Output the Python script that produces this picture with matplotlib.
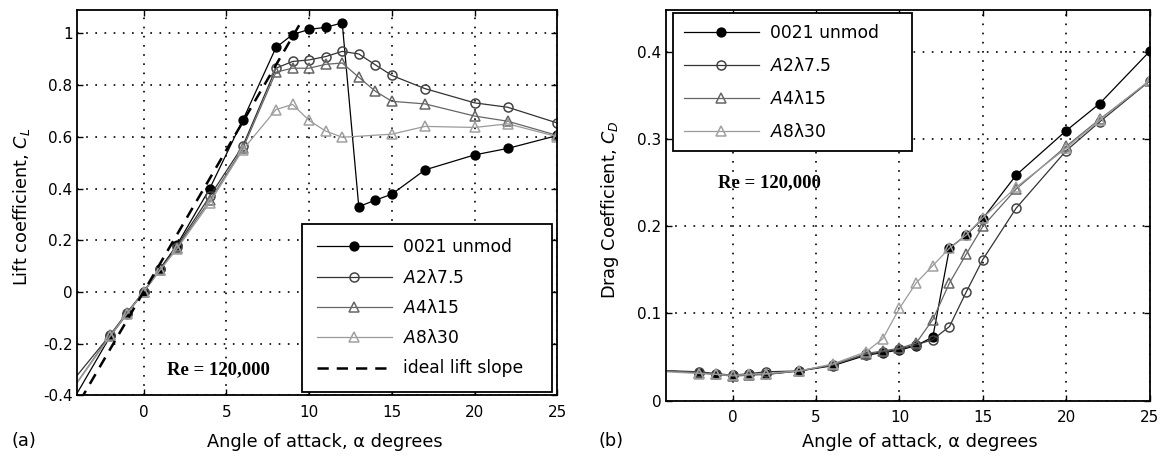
import matplotlib
matplotlib.use("Agg")
import matplotlib.pyplot as plt

plt.rcParams['font.family'] = ['DejaVu Sans']
plt.rcParams['mathtext.fontset'] = 'custom'
plt.rcParams['mathtext.rm'] = 'DejaVu Sans'
plt.rcParams['mathtext.it'] = 'DejaVu Sans:italic'

# Lift coefficient vs angle of attack
alpha_cl = [-5, -2, -1, 0, 1, 2, 4, 6, 8, 9, 10, 11, 12, 13, 14, 15, 17, 20, 22, 25]
cl_unmod = [-0.50, -0.17, -0.085, 0.0, 0.09, 0.18, 0.40, 0.665, 0.945, 0.995, 1.015,
            1.023, 1.04, 0.33, 0.355, 0.378, 0.472, 0.53, 0.555, 0.605]
cl_a2 = [-0.40, -0.165, -0.08, 0.0, 0.09, 0.175, 0.37, 0.565, 0.865, 0.891, 0.897,
         0.91, 0.93, 0.92, 0.878, 0.837, 0.786, 0.731, 0.714, 0.653]
cl_a4 = [-0.44, -0.165, -0.08, 0.0, 0.085, 0.17, 0.355, 0.555, 0.85, 0.865, 0.865,
         0.88, 0.885, 0.83, 0.776, 0.737, 0.727, 0.68, 0.66, 0.605]
alpha_cl_a8 = [-5, -2, -1, 0, 1, 2, 4, 6, 8, 9, 10, 11, 12, 15, 17, 20, 22, 25]
cl_a8 = [-0.44, -0.17, -0.085, 0.0, 0.085, 0.165, 0.345, 0.55, 0.705, 0.725, 0.663,
         0.622, 0.598, 0.61, 0.64, 0.636, 0.65, 0.60]
ideal_alpha = [-5, 9.4]
ideal_cl = [-0.548, 1.031]

# Drag coefficient vs angle of attack
alpha_cd = [-5, -2, -1, 0, 1, 2, 4, 6, 8, 9, 10, 11, 12, 13, 14, 15, 17, 20, 22, 25]
cd_unmod = [0.035, 0.032, 0.030, 0.029, 0.030, 0.030, 0.034, 0.040, 0.052, 0.055, 0.058,
            0.063, 0.073, 0.175, 0.190, 0.209, 0.259, 0.310, 0.341, 0.401]
cd_a2 = [0.035, 0.033, 0.031, 0.029, 0.031, 0.033, 0.034, 0.041, 0.053, 0.056, 0.059,
         0.064, 0.070, 0.085, 0.1245, 0.162, 0.221, 0.287, 0.320, 0.367]
cd_a4 = [0.035, 0.032, 0.030, 0.028, 0.029, 0.030, 0.034, 0.041, 0.054, 0.057, 0.060,
         0.066, 0.093, 0.135, 0.168, 0.200, 0.243, 0.292, 0.323, 0.367]
cd_a8 = [0.034, 0.031, 0.030, 0.029, 0.030, 0.031, 0.034, 0.042, 0.056, 0.071, 0.106,
         0.135, 0.155, 0.175, 0.190, 0.210, 0.245, 0.290, 0.322, 0.368]

labels = ['0021 unmod', r'$A$2λ7.5', r'$A$4λ15', r'$A$8λ30']
x_ticks = [0, 5, 10, 15, 20, 25]
cl_ticks = [-0.4, -0.2, 0, 0.2, 0.4, 0.6, 0.8, 1]
cl_ticklabels = ['-0.4', '-0.2', '0', '0.2', '0.4', '0.6', '0.8', '1']
cd_ticks = [0, 0.1, 0.2, 0.3, 0.4]
cd_ticklabels = ['0', '0.1', '0.2', '0.3', '0.4']

styles = [
    dict(color='black', marker='o', mfc='black', mec='black', ms=6.3),
    dict(color='#333333', marker='o', mfc='none', mec='#444444', ms=6.5),
    dict(color='#666666', marker='^', mfc='none', mec='#666666', ms=7),
    dict(color='#9a9a9a', marker='^', mfc='none', mec='#a0a0a0', ms=7),
]


def style_axes(ax, yticks, yticklabels):
    ax.set_xlim(-4, 25)
    ax.set_xticks(x_ticks)
    ax.set_xticklabels([str(t) for t in x_ticks])
    ax.set_yticks(yticks)
    ax.set_yticklabels(yticklabels)
    ax.tick_params(direction='in', length=4, width=1, top=True, right=True,
                   labelsize=11)
    ax.tick_params(axis='x', pad=6.5)
    ax.tick_params(axis='y', pad=3.5)
    ax.grid(True, color='black', linestyle=(0, (1, 4.5)), linewidth=1.2)
    for sp in ax.spines.values():
        sp.set_linewidth(1.3)


fig = plt.figure(figsize=(11.66, 4.58), dpi=100)

# (a) lift
ax1 = fig.add_axes([0.0663, 0.1365, 0.4118, 0.8417])
series_cl = [(alpha_cl, cl_unmod), (alpha_cl, cl_a2), (alpha_cl, cl_a4), (alpha_cl_a8, cl_a8)]
handles = []
for (x, y), lab, st in zip(series_cl, labels, styles):
    h, = ax1.plot(x, y, linewidth=0.9, mew=1.1, label=lab, **st)
    handles.append(h)
h_ideal, = ax1.plot(ideal_alpha, ideal_cl, color='black', linewidth=1.8,
                    dashes=(4.5, 3.2), label='ideal lift slope')
handles.append(h_ideal)
ax1.set_ylim(-0.4, 1.09)
style_axes(ax1, cl_ticks, cl_ticklabels)
ax1.set_xlabel('Angle of attack, α degrees', fontsize=12.8)
ax1.xaxis.set_label_coords(0.516, -0.12)
ax1.xaxis.label.set_va('center')
ax1.set_ylabel(r'Lift coefficient, $C_L$', fontsize=12.8)
ax1.yaxis.set_label_coords(-0.117, 0.49)
ax1.yaxis.label.set_va('center')
ax1.text(4.5, -0.30, 'Re = 120,000', family='Liberation Serif', weight='bold',
         fontsize=13.5, ha='center', va='center')
leg1 = ax1.legend(handles=handles, loc='lower left',
                  bbox_to_anchor=(0.468, 0.009, 0.5205, 0.45), mode='expand',
                  borderaxespad=0, fontsize=12.3, handlelength=4.4,
                  handletextpad=0.65, labelspacing=0.72, borderpad=0.85,
                  fancybox=False, framealpha=1, edgecolor='black')
leg1.get_frame().set_linewidth(1.3)

# (b) drag
ax2 = fig.add_axes([0.5712, 0.1255, 0.4147, 0.8526])
series_cd = [(alpha_cd, cd_unmod), (alpha_cd, cd_a2), (alpha_cd, cd_a4), (alpha_cd, cd_a8)]
handles2 = []
for (x, y), lab, st in zip(series_cd, labels, styles):
    h, = ax2.plot(x, y, linewidth=0.9, mew=1.1, label=lab, **st)
    handles2.append(h)
ax2.set_ylim(0, 0.4486)
style_axes(ax2, cd_ticks, cd_ticklabels)
ax2.set_xlabel('Angle of attack, α degrees', fontsize=12.8)
ax2.xaxis.set_label_coords(0.524, -0.106)
ax2.xaxis.label.set_va('center')
ax2.set_ylabel(r'Drag Coefficient, $C_D$', fontsize=12.8)
ax2.yaxis.set_label_coords(-0.115, 0.49)
ax2.yaxis.label.set_va('center')
ax2.text(2.23, 0.25, 'Re = 120,000', family='Liberation Serif', weight='bold',
         fontsize=13.5, ha='center', va='center')
leg2 = ax2.legend(handles=handles2, loc='upper left',
                  bbox_to_anchor=(0.0147, 0.0, 0.494, 0.992), mode='expand',
                  borderaxespad=0, fontsize=12.3, handlelength=4.4,
                  handletextpad=0.65, labelspacing=0.88, borderpad=0.62,
                  fancybox=False, framealpha=1, edgecolor='black')
leg2.get_frame().set_linewidth(1.3)

fig.text(24 / 1166, 1 - 441.5 / 458, '(a)', fontsize=12.8, ha='center', va='center')
fig.text(611 / 1166, 1 - 441.5 / 458, '(b)', fontsize=12.8, ha='center', va='center')

fig.savefig('out.png', dpi=100)
